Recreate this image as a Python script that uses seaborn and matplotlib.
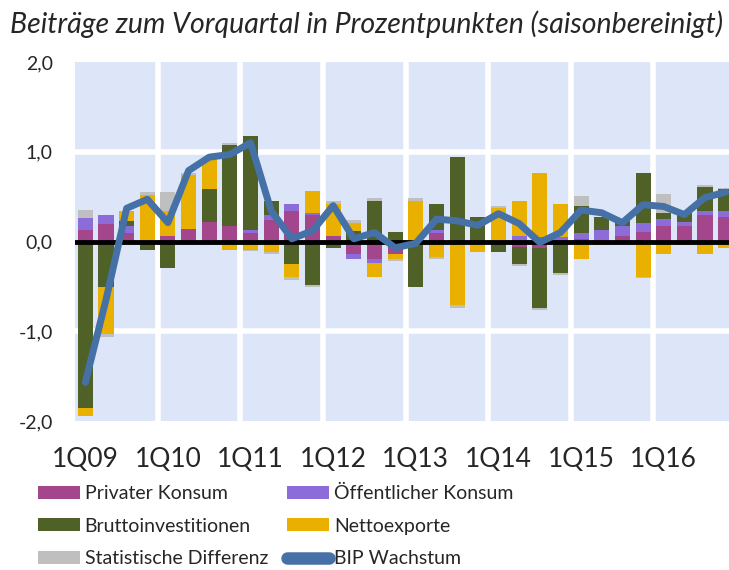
import numpy as np
import pandas as pd
import matplotlib
matplotlib.use("Agg")
import matplotlib.pyplot as plt
import seaborn as sns
from matplotlib.patches import Patch
from matplotlib.lines import Line2D

quarters = [f"{q}Q{y:02d}" for y in range(9, 17) for q in range(1, 5)]

privat = [0.13, 0.20, 0.09, 0.00, 0.06, 0.14, 0.22, 0.17,
          0.10, 0.24, 0.34, 0.30, 0.06, -0.14, -0.19, -0.14,
          0.00, 0.09, 0.00, 0.00, 0.00, -0.06, -0.07, 0.00,
          0.03, 0.00, 0.06, 0.11, 0.17, 0.17, 0.30, 0.27]
oeffentlich = [0.13, 0.10, 0.08, 0.00, 0.00, -0.02, -0.02, 0.00,
               0.03, 0.05, 0.08, 0.02, 0.00, -0.06, -0.05, 0.00,
               0.00, 0.04, 0.00, 0.00, 0.00, 0.06, 0.05, 0.05,
               0.06, 0.13, 0.11, 0.10, 0.08, 0.05, 0.04, 0.07]
brutto = [-1.86, -0.51, 0.06, -0.09, -0.30, 0.00, 0.37, 0.90,
          1.05, 0.16, -0.25, -0.49, -0.07, 0.12, 0.45, 0.11,
          -0.51, 0.29, 0.94, 0.27, -0.12, -0.19, -0.67, -0.35,
          0.30, 0.14, 0.06, 0.55, 0.07, 0.11, 0.27, 0.24]
netto = [-0.08, -0.52, 0.11, 0.52, 0.28, 0.60, 0.33, -0.09,
         -0.09, -0.12, -0.15, 0.24, 0.36, 0.09, -0.16, -0.06,
         0.45, -0.17, -0.71, -0.12, 0.37, 0.39, 0.71, 0.37,
         -0.19, -0.04, -0.03, -0.39, -0.14, -0.04, -0.14, -0.07]
stat_diff = [0.09, -0.03, 0.00, 0.03, 0.21, 0.02, 0.00, 0.03,
             -0.02, -0.02, -0.03, -0.02, 0.03, 0.03, 0.03, -0.02,
             0.04, -0.02, -0.03, 0.00, 0.03, -0.02, -0.02, -0.02,
             0.12, 0.00, 0.00, -0.02, 0.21, 0.00, 0.02, 0.02]
bip = [-1.57, -0.65, 0.37, 0.47, 0.21, 0.79, 0.94, 0.97,
       1.10, 0.34, 0.03, 0.12, 0.40, 0.03, 0.10, -0.07,
       -0.02, 0.25, 0.23, 0.18, 0.31, 0.20, -0.01, 0.10,
       0.35, 0.32, 0.21, 0.41, 0.39, 0.30, 0.49, 0.55]

ytick_vals = [-2, -1, 0, 1, 2]
ytick_labels = ["-2,0", "-1,0", "0,0", "1,0", "2,0"]

series = [("Privater Konsum", privat, "#A4468C"),
          ("Öffentlicher Konsum", oeffentlich, "#8C6CD8"),
          ("Bruttoinvestitionen", brutto, "#4F6127"),
          ("Nettoexporte", netto, "#EAB000"),
          ("Statistische Differenz", stat_diff, "#BFBFBF")]
line_color = "#4571A6"

sns.set_theme(style="white")
plt.rcParams["font.family"] = ["Lato", "DejaVu Sans"]

fig = plt.figure(figsize=(7.29, 5.70), dpi=100)
ax = fig.add_axes([75 / 729, 149 / 570, 661 / 729, 359 / 570])
ax.set_facecolor("#DCE6F8")

# stacked bars, positives up and negatives down
pos_base = np.zeros(len(quarters))
neg_base = np.zeros(len(quarters))
for name, vals, col in series:
    v = np.array(vals)
    bottom = np.where(v >= 0, pos_base, neg_base)
    sns.barplot(x=quarters, y=v, bottom=bottom, color=col, saturation=1,
                width=0.73, errorbar=None, ax=ax, zorder=2, linewidth=0)
    pos_base = pos_base + np.clip(v, 0, None)
    neg_base = neg_base + np.clip(v, None, 0)

sns.lineplot(x=np.arange(len(quarters)), y=bip, color=line_color, lw=5,
             ax=ax, zorder=4, solid_joinstyle="round", solid_capstyle="round")

# white separators between panels
for yy in [-1, 1]:
    ax.axhline(yy, color="white", lw=4, zorder=1)
for xx in np.arange(3.5, len(quarters) - 1, 4):
    ax.axvline(xx, color="white", lw=4, zorder=1)
ax.axhline(0, color="black", lw=3.5, zorder=3)

ax.set_xlim(-0.5, len(quarters) - 0.5)
ax.set_ylim(-2, 2)
ax.set_xticks(np.arange(0, len(quarters), 4))
ax.set_xticklabels(quarters[::4], fontsize=19)
ax.set_yticks(ytick_vals)
ax.set_yticklabels(ytick_labels, fontsize=14)
ax.tick_params(axis="x", length=0, pad=19)
ax.tick_params(axis="y", length=0, pad=16)
ax.set_xlabel("")
ax.set_ylabel("")
for s in ax.spines.values():
    s.set_visible(False)

fig.text(10 / 729, 1 - 10 / 570,
         "Beiträge zum Vorquartal in Prozentpunkten (saisonbereinigt)",
         fontsize=20.5, style="italic", ha="left", va="top")

handles = {name: Patch(facecolor=col, edgecolor="none") for name, _, col in series}
handles["BIP Wachstum"] = Line2D([0], [0], color=line_color, lw=9, solid_capstyle="round")
order = ["Privater Konsum", "Bruttoinvestitionen", "Statistische Differenz",
         "Öffentlicher Konsum", "Nettoexporte", "BIP Wachstum"]
fig.legend([handles[k] for k in order], order, ncol=2, loc="upper left",
           bbox_to_anchor=(38 / 729, 1 - 485 / 570), frameon=False, fontsize=14,
           handlelength=2.15, handleheight=0.65, handletextpad=0.25,
           columnspacing=1.0, labelspacing=0.8, borderpad=0, borderaxespad=0)

fig.savefig("out.png", dpi=100)
